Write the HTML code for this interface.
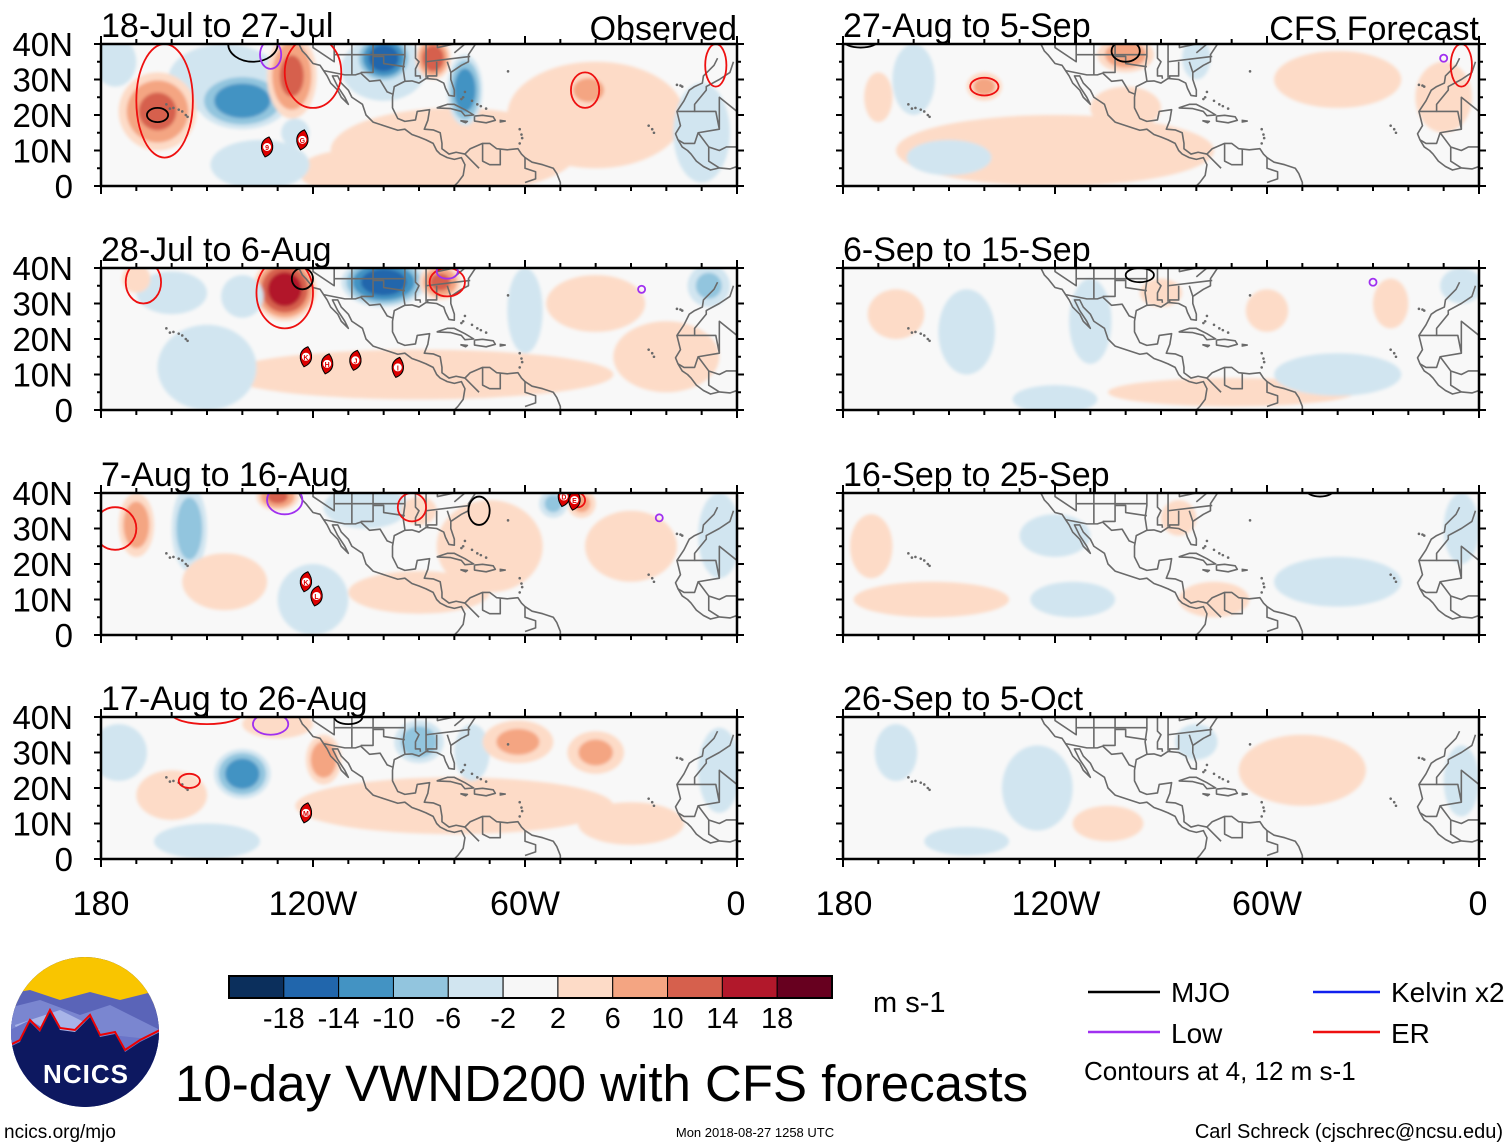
<!DOCTYPE html>
<html><head><meta charset="utf-8">
<style>
html,body{margin:0;padding:0;background:#fff;}
svg{display:block;font-family:"Liberation Sans",Arial,sans-serif;}
</style></head>
<body>
<svg id="fig" width="1510" height="1147" viewBox="0 0 1510 1147" xmlns="http://www.w3.org/2000/svg">
<defs>
<filter id="sm" x="-10%" y="-10%" width="120%" height="120%"><feGaussianBlur stdDeviation="1.5"/></filter>
</defs>
<g id="panels"></g>

<g font-size="34" text-anchor="middle">
<text x="101" y="915">180</text><text x="313" y="915">120W</text><text x="525" y="915">60W</text><text x="736" y="915">0</text>
</g>
<g font-size="34" text-anchor="middle">
<text x="844" y="915">180</text><text x="1056" y="915">120W</text><text x="1267" y="915">60W</text><text x="1478" y="915">0</text>
</g>

<g id="cbar"></g>
<text x="873" y="1012" font-size="29">m s-1</text>

<g font-size="28">
<g><line x1="1088" y1="992" x2="1160" y2="992" stroke="#000" stroke-width="2.5"/><text x="1171" y="1002">MJO</text></g>
<g><line x1="1313" y1="992" x2="1380" y2="992" stroke="#1020ee" stroke-width="2.5"/><text x="1391" y="1002">Kelvin x2</text></g>
<g><line x1="1088" y1="1032" x2="1160" y2="1032" stroke="#a030f0" stroke-width="2.5"/><text x="1171" y="1043">Low</text></g>
<g><line x1="1313" y1="1032" x2="1380" y2="1032" stroke="#ee1010" stroke-width="2.5"/><text x="1391" y="1043">ER</text></g>
<text x="1084" y="1080" font-size="26">Contours at 4, 12 m s-1</text>
</g>

<g>
<clipPath id="lc"><ellipse cx="85" cy="1032" rx="74" ry="75"/></clipPath>
<g clip-path="url(#lc)">
<rect x="0" y="950" width="170" height="170" fill="#0d1860"/>
<rect x="0" y="950" width="170" height="60" fill="#f9c500"/>
<polygon points="0,995 30,990 60,1000 90,992 120,1000 160,990 170,1000 170,1060 0,1060" fill="#5a64b8"/>
<polygon points="0,1010 40,1000 80,1015 110,1005 160,1030 160,1060 0,1060" fill="#7a86d0"/>
<polygon points="15,1025 60,1010 100,1030 60,1045 20,1040" fill="#a8b4e8"/>
<polygon points="0,1035 30,1020 70,1045 110,1035 160,1040 160,1080 0,1080" fill="#6a74c8"/>
<polyline points="0,1050 20,1040 30,1020 40,1030 50,1010 60,1028 75,1030 90,1015 100,1035 115,1032 125,1050 140,1040 160,1030" fill="none" stroke="#e00" stroke-width="2"/>
<polygon points="0,1052 20,1042 30,1022 40,1032 50,1012 60,1030 75,1032 90,1017 100,1037 115,1034 125,1052 140,1042 160,1032 170,1032 170,1120 0,1120" fill="#0d1860"/>
</g>
<text x="86" y="1083" font-size="26" font-weight="bold" fill="#fff" text-anchor="middle" letter-spacing="1">NCICS</text>
</g>

<text x="175" y="1101" font-size="51">10-day VWND200 with CFS forecasts</text>
<text x="4" y="1138" font-size="19">ncics.org/mjo</text>
<text x="755" y="1137" font-size="13" text-anchor="middle">Mon 2018-08-27 1258 UTC</text>
<text x="1503" y="1138" font-size="20" text-anchor="end">Carl Schreck (cjschrec@ncsu.edu)</text>
</svg>

<script>
// ---- data ----
const panelTitles = ["18-Jul to 27-Jul","28-Jul to 6-Aug","7-Aug to 16-Aug","17-Aug to 26-Aug","27-Aug to 5-Sep","6-Sep to 15-Sep","16-Sep to 25-Sep","26-Sep to 5-Oct"];
const colorLevels = [-22,-18,-14,-10,-6,-2,2,6,10,14,18];
const colorTicks = ["-18","-14","-10","-6","-2","2","6","10","14","18"];
const latTicks = [40,30,20,10,0];
const latLabels = ["40N","30N","20N","10N","0"];
// anomaly blobs per panel: [lon, lat, rxDeg, ryDeg, value]
const blobs0 = [[-80,10,35,12,3],[-40,20,25,15,3],[-110,4,14,6,5],[-135,6,14,7,-4],[-176,35,6,7,-4],[-145,30,16,10,-3],[-100,33,12,9,-4],[-10,15,8,14,-3],[-164,21,11,11,12],[-140,24,13,8,-14],[-126,31,7,12,12],[-100,36,8,7,-18],[-86,36,5,6,14],[-77,27,5,10,-14],[-42,27,9,7,7],[-125,15,4,4,-3]];
const blobs1 = [[-90,10,55,7,3],[-150,12,14,12,-3],[-40,30,14,8,3],[-160,33,10,6,-6],[-170,37,4,4,5],[-128,34,9,9,18],[-100,36,12,7,-18],[-84,36,6,5,12],[-60,28,5,12,-4],[-8,35,6,6,-8],[-20,15,15,10,3],[-140,32,6,6,-4]];
const blobs2 = [[-70,25,15,13,3],[-30,25,13,10,4],[-120,10,10,10,-3],[-170,31,5,9,10],[-155,30,5,12,-10],[-130,39,6,4,12],[-105,36,12,6,-6],[-90,35,5,4,5],[-44,37,4,4,8],[-52,37,4,4,-8],[-5,28,6,12,-5],[-145,15,12,8,3],[-90,12,20,6,3]];
const blobs3 = [[-80,15,45,8,3],[-175,30,8,8,-4],[-160,18,10,7,6],[-140,24,8,7,-14],[-117,28,5,7,10],[-130,38,10,4,5],[-90,33,7,6,-10],[-75,30,5,8,-4],[-62,33,10,6,8],[-40,30,8,6,8],[-5,25,6,12,-5],[-150,5,15,5,-3],[-30,10,15,6,3]];
const blobs4 = [[-120,10,45,10,2.5],[-40,30,18,8,3],[-150,8,12,5,-3],[-160,30,6,10,-3],[-170,25,4,7,6],[-140,28,5,4,8],[-100,37,8,5,10],[-80,36,4,6,-4],[-10,25,8,10,3],[-100,22,10,6,2.5]];
const blobs5 = [[-70,5,35,4,2.5],[-165,27,8,7,5],[-145,22,8,12,-3],[-110,25,6,12,-3],[-90,33,6,4,3],[-60,28,6,6,4],[-25,30,5,7,3],[-5,35,6,5,-4],[-40,10,18,6,-3],[-120,3,12,4,-3]];
const blobs6 = [[-172,25,6,9,3],[-120,28,10,6,-3],[-85,33,5,5,6],[-40,15,18,7,-3],[-5,30,5,10,-4],[-155,10,22,5,2.5],[-115,10,12,5,-3],[-75,10,10,5,2.5]];
const blobs7 = [[-165,30,6,8,-3],[-125,20,10,12,-3],[-80,33,6,5,-4],[-50,25,18,10,3],[-5,22,5,10,-4],[-145,5,12,4,-3],[-105,10,10,5,2.5]];
const allBlobs = [blobs0,blobs1,blobs2,blobs3,blobs4,blobs5,blobs6,blobs7];
// contours: [type, lon, lat, rxDeg, ryDeg]
const contours = [
 [["er",-162,24,8,16],["er",-120,32,8,10],["er",-43,27,4,5],["er",-6,34,3,6],["mjo",-164,20,3,2],["mjo",-137,40,7,5],["low",-132,37,3,4]],
 [["er",-128,33,8,10],["er",-168,36,5,6],["mjo",-123,37,3,3],["er",-82,36,5,4],["low",-82,39,3,2],["low",-27,34,1,1]],
 [["er",-176,30,6,6],["low",-128,38,5,4],["er",-92,36,4,4],["mjo",-73,35,3,4],["er",-45,38,2,2],["low",-22,33,1,1]],
 [["er",-155,22,3,2],["er",-150,41,10,3],["low",-132,38,5,3],["mjo",-110,40,4,2]],
 [["mjo",-100,38,4,3],["er",-140,28,4,2.5],["low",-10,36,1,1],["er",-5,34,3,6],["mjo",-175,41,5,2]],
 [["mjo",-96,38,4,2],["low",-30,36,1,1]],
 [["mjo",-45,41,4,2]],
 []
];
// storms: [lon, lat, label]
const storms = [[[-133,11,"9"],[-123,13,"G"]],[[-122,15,"K"],[-116,13,"H"],[-108,14,"J"],[-96,12,"I"]],[[-122,15,"K"],[-119,11,"L"],[-49,39,"D"],[-46,38,"E"]],[[-122,13,"M"]],[],[],[],[]];
// coastlines (lon, lat)
const coasts = [
 [[-124,40],[-123,38],[-122,37],[-120,34.5],[-118,34],[-117,32.5],[-116,31],[-115,29],[-113,27],[-112,25],[-110,23],[-111,25],[-113,28],[-114.5,31],[-113,31],[-112,29],[-110,27],[-109,25],[-106,23],[-105,20],[-103,18],[-100,17],[-96,15.7],[-94,16],[-92,14.5],[-90,13.8],[-88,13],[-86,12],[-85,10],[-84,9],[-82,8],[-80,7.5],[-78,8],[-77,6],[-77.5,3],[-79,1],[-80,0]],
 [[-74,40],[-76,37],[-76,35],[-78,34],[-81,32],[-81,30],[-80,27],[-80,25.3],[-81.5,25.5],[-82.5,27.5],[-83,29],[-85,30],[-88,30.3],[-90,29],[-92,29.6],[-94,29.5],[-97,28],[-97.5,25],[-97.5,22],[-96,19],[-94,18.2],[-91,18.6],[-90.5,21],[-87,21.5],[-87.5,18.5],[-88.5,16],[-86,15.8],[-84,15],[-83.5,12],[-83.5,10.5],[-81.5,9],[-79.5,9.5],[-77,9],[-75.5,10.5],[-72,12],[-70,12],[-68,10.5],[-65,10.2],[-62,10.5],[-61,9],[-60,8],[-58,6.7],[-55,6],[-52,5],[-51,3.5],[-50,1],[-50,0]],
 [[-85,22],[-82,23],[-80,23],[-77,21.5],[-74.5,20],[-77,19.8],[-78,21],[-81,21.8],[-85,22]],
 [[-74.3,19.7],[-72,19.9],[-69,19.5],[-68.4,18.5],[-71,17.8],[-74.3,18.3],[-74.3,19.7]],
 [[-78.3,18.4],[-76.3,18.2],[-76.8,17.8],[-78.3,18.4]],[[-67.2,18.5],[-65.6,18.3],[-67.2,18]],
 [[-5.5,36],[-6.5,34],[-9.5,31],[-9.8,29],[-12,28],[-13.5,27],[-15,24],[-17,21],[-16.5,19],[-16,17],[-17.4,14.7],[-16.7,13],[-15.5,11],[-14,10],[-13,9],[-11.5,7],[-9.5,5.5],[-7.5,4.5],[-5,5.1],[-2,4.8],[0,5.5]],
 [[-17,21],[-12,21],[-12,23],[-8.7,27],[-8.7,28],[-5,30],[-2,32],[-1,35]],[[-12,21],[-6,21],[-5,16],[-11,15],[-12,12],[-15,12],[-16.7,13]],[[-5,16],[-5,25],[0,21]],[[-11,15],[-8,11],[-5,10],[-3,11],[0,11]],[[-8,11],[-8,7],[-5,5.1]],
 [[-117,32.5],[-111,31.3],[-108,31.3],[-106.5,31.8],[-104,29.5],[-101,29.8],[-99,26.5],[-97.5,25.9]],
 [[-124,42],[-124,40]],[[-114,40],[-114,35],[-120,39],[-120,42]],[[-109,40],[-109,31.3]],[[-103,40],[-103,32],[-106.5,32]],[[-114,37],[-94,37]],[[-103,36.5],[-100,36.5],[-100,34.5],[-94,33.6]],[[-94,40],[-94,36.5],[-94.5,33],[-94,29.7]],[[-91,40],[-91,36],[-90,35],[-91,33],[-91,31],[-89.7,31],[-89.6,30.2]],[[-88,35],[-88,30.5]],[[-85,35],[-85,31],[-87.6,31],[-87.5,30.3]],[[-82,35],[-81,32]],[[-88,40],[-88,35],[-75.5,36.5]],[[-84.8,40],[-84.8,39],[-80,40]],[[-77,40],[-80,37.5]],[[-102,40],[-95,40]],
 [[-60,8],[-60,5],[-57,4],[-57,2],[-60,1]],[[-67,10.5],[-67,6],[-70,6],[-72,7],[-72,12]],[[-77,9],[-75,7],[-73,5]]
];
const islands = [[-156,20],[-157,21],[-158,21.5],[-159.5,22],[-155.5,19.5],[-160.5,21.8],[-161.5,23],[-16,28.3],[-15.5,28],[-17,28.5],[-24,16],[-23.5,15],[-25,17],[-64.8,32.3],[-61.5,16],[-61,14.5],[-60.8,13.5],[-61.5,12],[-71,21.8],[-72.5,22.5],[-73.5,23],[-75,24],[-77.5,25],[-77,26.5],[-78,24.5]];

// ---- layout ----
const colX = [101, 843], rowY = [44, 268, 493, 717], PW = 636, PH = 142;
const ns = "http://www.w3.org/2000/svg";
const colors = ["#0b2f5c","#2166ac","#4393c3","#92c5de","#d1e5f0","#f7f7f7","#fddbc7","#f4a582","#d6604d","#b2182b","#67001f"];
function mk(tag, attrs, parent){const e=document.createElementNS(ns,tag);for(const k in attrs)e.setAttribute(k,attrs[k]);if(parent)parent.appendChild(e);return e;}
function colorFor(v){let i=0;while(i<colorLevels.length-1&&v>colorLevels[i+1])i++;return colors[i];}
const root = document.getElementById("panels");

for(let p=0;p<8;p++){
  const c=Math.floor(p/4), r=p%4, x0=colX[c], y0=rowY[r];
  const xs = lon => x0 + (lon+180)/180*PW;
  const ys = lat => y0 + PH - lat/40*PH;
  const sx = d => d/180*PW, sy = d => d/40*PH;
  const g = mk("g",{},root);
  
  
  const cp = mk("clipPath",{id:"cp"+p},g);
  mk("rect",{x:x0,y:y0,width:PW,height:PH},cp);
  const inner = mk("g",{"clip-path":"url(#cp"+p+")"},g);
  mk("rect",{x:x0,y:y0,width:PW,height:PH,fill:"#f8f8f8"},inner);
  const field = mk("g",{filter:"url(#sm)"},inner);
  
  
  for(const b of allBlobs[p]){
    const [lon,lat,rx,ry,v]=b, a=Math.abs(v), s=Math.sign(v);
    const th=[2,6,10,14,18].filter(t=>t<a);
    th.forEach(t=>{
      const k=t===2?1:Math.pow((a-t)/(a-2),0.45);
      const e=mk("ellipse",{cx:xs(lon),cy:ys(lat),rx:sx(rx)*k,ry:sy(ry)*k,fill:colorFor(s*(t+1))},field);
      
      
    });
  }
  const land = mk("g",{fill:"none",stroke:"#6a6a6a","stroke-width":"1.6","stroke-linejoin":"round"},inner);
  
  
  for(const line of coasts){mk("polyline",{points:line.map(q=>xs(q[0])+","+ys(q[1])).join(" ")},land);}
  for(const q of islands){mk("circle",{cx:xs(q[0]),cy:ys(q[1]),r:1.3,fill:"#6a6a6a",stroke:"none"},land);}
  const cc={er:"#ee1010",mjo:"#000",low:"#a030f0"};
  for(const ct of contours[p]){
    const e=mk("ellipse",{cx:xs(ct[1]),cy:ys(ct[2]),rx:sx(ct[3]),ry:sy(ct[4]),fill:"none",stroke:cc[ct[0]],"stroke-width":"1.8"},inner);
    
    
  }
  for(const st of storms[p]){
    const sg=mk("g",{},inner);
    
    
    const X=xs(st[0]),Y=ys(st[1]);
    mk("path",{d:`M${X+2},${Y-10} C${X-8},${Y-6} ${X-7},${Y+3} ${X-2},${Y+10} C${X+8},${Y+6} ${X+7},${Y-3} ${X+2},${Y-10}Z`,fill:"#d00",stroke:"#000","stroke-width":"1"},sg);
    mk("circle",{cx:X,cy:Y,r:4,fill:"#fff"},sg);
    const t=mk("text",{x:X,y:Y+3,"font-size":"7","font-weight":"bold","text-anchor":"middle",fill:"#d00"},sg);t.textContent=st[2];
  }
  mk("rect",{x:x0,y:y0,width:PW,height:PH,fill:"none",stroke:"#000","stroke-width":"2.5"},g);
  const tk=mk("g",{stroke:"#000","stroke-width":"2"},g);
  for(let lon=-180;lon<=0;lon+=10){
    const major=lon%60===0, L=major?8:5;
    mk("line",{x1:xs(lon),y1:y0,x2:xs(lon),y2:y0-L},tk);
    mk("line",{x1:xs(lon),y1:y0+PH,x2:xs(lon),y2:y0+PH+L},tk);
  }
  for(let lat=0;lat<=40;lat+=5){
    const major=lat%10===0, L=major?7:4;
    mk("line",{x1:x0,y1:ys(lat),x2:x0-L,y2:ys(lat)},tk);
    mk("line",{x1:x0+PW,y1:ys(lat),x2:x0+PW+L,y2:ys(lat)},tk);
  }
  const tt=mk("text",{x:x0,y:y0-7,"font-size":"34"},g);tt.textContent=panelTitles[p];
  
  
  if(p===0){const o=mk("text",{x:x0+PW,y:y0-4,"font-size":"34","text-anchor":"end"},g);o.textContent="Observed";
    }
  if(p===4){const o=mk("text",{x:x0+PW,y:y0-4,"font-size":"34","text-anchor":"end"},g);o.textContent="CFS Forecast";
    }
  if(c===0){
    latTicks.forEach((lat,i)=>{const t=mk("text",{x:73,y:ys(lat)+12,"font-size":"33","text-anchor":"end"},g);t.textContent=latLabels[i];
      });
  }
}
const cb=document.getElementById("cbar");
const cbx=229, cby=976, cbw=603/11, cbh=22;
colors.forEach((col,i)=>{const r=mk("rect",{x:cbx+i*cbw,y:cby,width:cbw,height:cbh,fill:col,stroke:"#000","stroke-width":"1"},cb);
  });
mk("rect",{x:cbx,y:cby,width:603,height:cbh,fill:"none",stroke:"#000","stroke-width":"2"},cb);
colorTicks.forEach((t,i)=>{const e=mk("text",{x:cbx+(i+1)*cbw,y:1028,"font-size":"29","text-anchor":"middle"},cb);e.textContent=t;
  });
</script>
</body></html>
